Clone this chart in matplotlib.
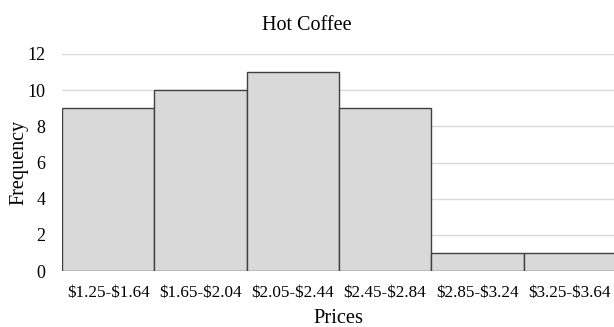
import matplotlib
matplotlib.use('Agg')
import matplotlib.pyplot as plt

categories = ['$1.25-$1.64', '$1.65-$2.04', '$2.05-$2.44',
              '$2.45-$2.84', '$2.85-$3.24', '$3.25-$3.64']
frequency = [9, 10, 11, 9, 1, 1]
y_ticks = [0, 2, 4, 6, 8, 10, 12]

plt.rcParams['font.family'] = 'Liberation Serif'
plt.rcParams['mathtext.default'] = 'regular'

fig = plt.figure(figsize=(6.14, 3.27), dpi=100)
ax = fig.add_axes([62 / 614, 1 - 271 / 327, 1 - 62 / 614, (271 - 54) / 327])

x = list(range(len(categories)))
ax.bar(x, frequency, width=1.0, color='#d9d9d9', edgecolor='#404040',
       linewidth=1.0, zorder=3)

ax.set_xlim(-0.5, 5.48)
ax.set_ylim(0, 12)
ax.set_yticks(y_ticks)
ax.set_xticks(x)
ax.set_xticklabels([c.replace('$', r'\$') for c in categories], fontsize=12.3)
ax.tick_params(axis='y', labelsize=13, length=0, pad=12)
ax.tick_params(axis='x', length=0, pad=10)
ax.grid(axis='y', color='#d9d9d9', linewidth=1.0, zorder=0)
for s in ax.spines.values():
    s.set_visible(False)

# title is centred on the whole figure, not the plot area
fig.text(0.5, 1 - 30 / 327, 'Hot Coffee', fontsize=14.5, ha='center', va='baseline')
ax.set_xlabel('Prices', fontsize=14.8)
ax.set_ylabel('Frequency', fontsize=14.5)
ax.xaxis.set_label_coords(0.5, -0.175)
ax.yaxis.set_label_coords(-0.060, 0.5)

fig.savefig('out.png', dpi=100)
